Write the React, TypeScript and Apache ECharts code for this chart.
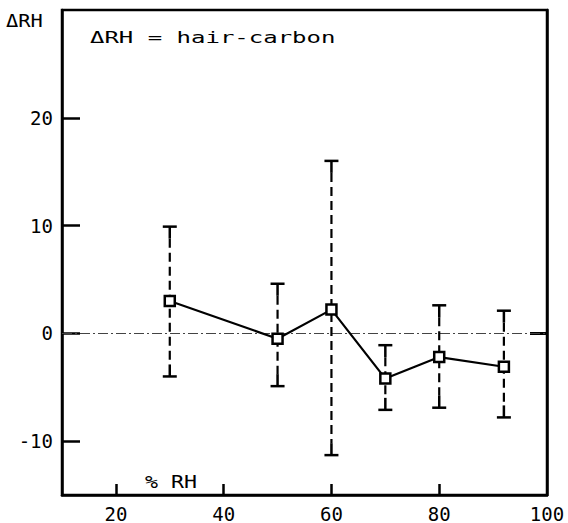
import React, { useEffect, useRef } from "react";
import * as echarts from "echarts";

const xValues = [30, 50, 60, 70, 80, 92];
const yMeans = [3, -0.5, 2.2, -4.2, -2.2, -3.1];
const yLow = [-4, -4.9, -11.3, -7.1, -6.9, -7.8];
const yHigh = [9.9, 4.6, 16.0, -1.1, 2.6, 2.1];

const xTicks = [20, 40, 60, 80];
const xLabels = [20, 40, 60, 80, 100];
const yTicks = [-10, 0, 10, 20];

const MONO = "DejaVu Sans Mono";

export default function App() {
  const ref = useRef<HTMLDivElement>(null);
  useEffect(() => {
    if (!ref.current) return;
    const chart = echarts.init(ref.current, undefined, { renderer: "svg" });
    const meanData = xValues.map((x, i) => [x, yMeans[i]]);
    const errData = xValues.map((x, i) => [x, yLow[i], yHigh[i]]);
    chart.setOption({
      animation: false,
      backgroundColor: "#fff",
      grid: {
        left: 62,
        right: 21,
        top: 10,
        bottom: 28,
        show: true,
        borderColor: "#000",
        borderWidth: 2.5,
        backgroundColor: "transparent",
      },
      xAxis: {
        type: "value",
        min: 10,
        max: 100,
        axisLine: { show: true, onZero: false, lineStyle: { color: "#000", width: 2.5 } },
        axisTick: {
          show: true,
          inside: true,
          length: 11,
          customValues: xTicks,
          lineStyle: { color: "#000", width: 2.5 },
        },
        axisLabel: {
          customValues: xLabels,
          fontSize: 19,
          fontFamily: MONO,
          color: "#000",
          margin: 9,
        },
        splitLine: { show: false },
      },
      yAxis: [
        {
          type: "value",
          min: -15,
          max: 30,
          axisLine: { show: true, onZero: false, lineStyle: { color: "#000", width: 2.5 } },
          axisTick: {
            show: true,
            inside: true,
            length: 18,
            customValues: yTicks,
            lineStyle: { color: "#000", width: 2.5 },
          },
          axisLabel: {
            customValues: yTicks,
            fontSize: 19,
            fontFamily: MONO,
            color: "#000",
            margin: 9,
          },
          splitLine: { show: false },
        },
        {
          type: "value",
          position: "right",
          min: -15,
          max: 30,
          axisLine: { show: true, onZero: false, lineStyle: { color: "#000", width: 2.5 } },
          axisTick: {
            show: true,
            inside: true,
            length: 17,
            customValues: [0],
            lineStyle: { color: "#000", width: 3 },
          },
          axisLabel: { show: false },
          splitLine: { show: false },
        },
      ],
      graphic: [
        {
          type: "text",
          x: 6,
          y: 21,
          scaleX: 1.2,
          style: {
            text: "ΔRH",
            fontSize: 17,
            fontFamily: MONO,
            fill: "#000",
            verticalAlign: "middle",
          },
        },
        {
          type: "text",
          x: 90,
          y: 38,
          scaleX: 1.5,
          style: {
            text: "ΔRH = hair-carbon",
            fontSize: 16,
            fontFamily: MONO,
            fill: "#000",
            verticalAlign: "middle",
          },
        },
        {
          type: "text",
          x: 145,
          y: 482,
          scaleX: 1.2,
          style: {
            text: "% RH",
            fontSize: 18,
            fontFamily: MONO,
            fill: "#000",
            verticalAlign: "middle",
          },
        },
      ],
      series: [
        {
          type: "custom",
          z: 2,
          data: errData,
          renderItem: (params: any, api: any) => {
            const x = api.value(0);
            const lo = api.coord([x, api.value(1)]);
            const hi = api.coord([x, api.value(2)]);
            const cx = lo[0];
            const capW = 7;
            const stem = 12;
            const stroke = { stroke: "#000", lineWidth: 2.5 };
            return {
              type: "group",
              children: [
                {
                  type: "line",
                  shape: { x1: cx, y1: hi[1] + stem, x2: cx, y2: lo[1] - stem },
                  style: { stroke: "#000", lineWidth: 2.2, lineDash: [9, 5] },
                },
                {
                  type: "line",
                  shape: { x1: cx, y1: hi[1], x2: cx, y2: hi[1] + stem },
                  style: stroke,
                },
                {
                  type: "line",
                  shape: { x1: cx, y1: lo[1], x2: cx, y2: lo[1] - stem },
                  style: stroke,
                },
                {
                  type: "line",
                  shape: { x1: cx - capW, y1: hi[1], x2: cx + capW, y2: hi[1] },
                  style: stroke,
                },
                {
                  type: "line",
                  shape: { x1: cx - capW, y1: lo[1], x2: cx + capW, y2: lo[1] },
                  style: stroke,
                },
              ],
            };
          },
        },
        {
          type: "line",
          z: 3,
          data: meanData,
          symbol: "rect",
          symbolSize: 10,
          showAllSymbol: true,
          lineStyle: { color: "#000", width: 2.2 },
          itemStyle: { color: "#fff", borderColor: "#000", borderWidth: 2.5 },
          markLine: {
            silent: true,
            symbol: "none",
            label: { show: false },
            lineStyle: { color: "#444", width: 1, type: [10, 3, 2, 3] },
            data: [{ yAxis: 0 }],
            z: 1,
          },
        },
      ],
    });
    return () => chart.dispose();
  }, []);
  return (
    <div
      ref={ref}
      style={{ position: "fixed", left: 0, top: 0, width: 568, height: 523 }}
    />
  );
}
